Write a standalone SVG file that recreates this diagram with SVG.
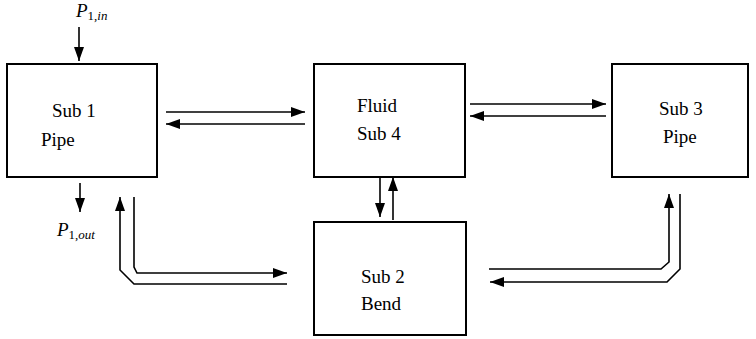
<svg xmlns="http://www.w3.org/2000/svg" width="756" height="339" viewBox="0 0 756 339">
<defs>
<marker id="ah" markerUnits="userSpaceOnUse" markerWidth="16" markerHeight="10" refX="14" refY="5" orient="auto">
<path d="M0,0 L14,5 L0,10 Z" fill="#000"/>
</marker>
<style>
.box{fill:#fff;stroke:#000;stroke-width:2}
.c{fill:none;stroke:#000;stroke-width:1.6}
.a{marker-end:url(#ah)}
</style>
</defs>
<rect width="756" height="339" fill="#fff"/>
<g font-family="Liberation Serif, Times New Roman, serif" font-size="19" fill="#000">
<g id="sub1">
<rect class="box" x="7" y="64" width="150" height="113"/>
<text x="52" y="117">Sub 1</text>
<text x="41" y="146">Pipe</text>
</g>
<g id="sub4">
<rect class="box" x="314" y="64" width="151" height="113"/>
<text x="357" y="112">Fluid</text>
<text x="357" y="140">Sub 4</text>
</g>
<g id="sub3">
<rect class="box" x="612" y="64" width="136" height="113"/>
<text x="659" y="115">Sub 3</text>
<text x="663" y="143">Pipe</text>
</g>
<g id="sub2">
<rect class="box" x="314" y="222" width="152" height="113"/>
<text x="361" y="283">Sub 2</text>
<text x="361" y="310">Bend</text>
</g>
<g id="p1in">
<text x="76" y="17" font-style="italic">P<tspan font-size="13" dy="3" font-style="normal">1,</tspan><tspan font-size="13">in</tspan></text>
</g>
<g id="p1out">
<text x="57" y="236" font-style="italic">P<tspan font-size="13" dy="3" font-style="normal">1,</tspan><tspan font-size="13">out</tspan></text>
</g>
</g>
<g id="connectors">
<line class="c a" x1="79" y1="27" x2="79" y2="61"/>
<line class="c a" x1="80" y1="183" x2="80" y2="212"/>
<line class="c a" x1="166" y1="112" x2="305" y2="112"/>
<line class="c a" x1="305" y1="124" x2="166" y2="124"/>
<line class="c a" x1="470" y1="104" x2="606" y2="104"/>
<line class="c a" x1="606" y1="116" x2="470" y2="116"/>
<line class="c a" x1="380" y1="177" x2="380" y2="217"/>
<line class="c a" x1="393" y1="220" x2="393" y2="177"/>
<polyline class="c a" points="287,284 134,284 120,270 120,197"/>
<polyline class="c a" points="134,197 134,267 137,273 287,273"/>
<polyline class="c a" points="489,269 661,269 669,262 669,194"/>
<polyline class="c a" points="680,194 680,269 667,282 490,282"/>
</g>
</svg>
